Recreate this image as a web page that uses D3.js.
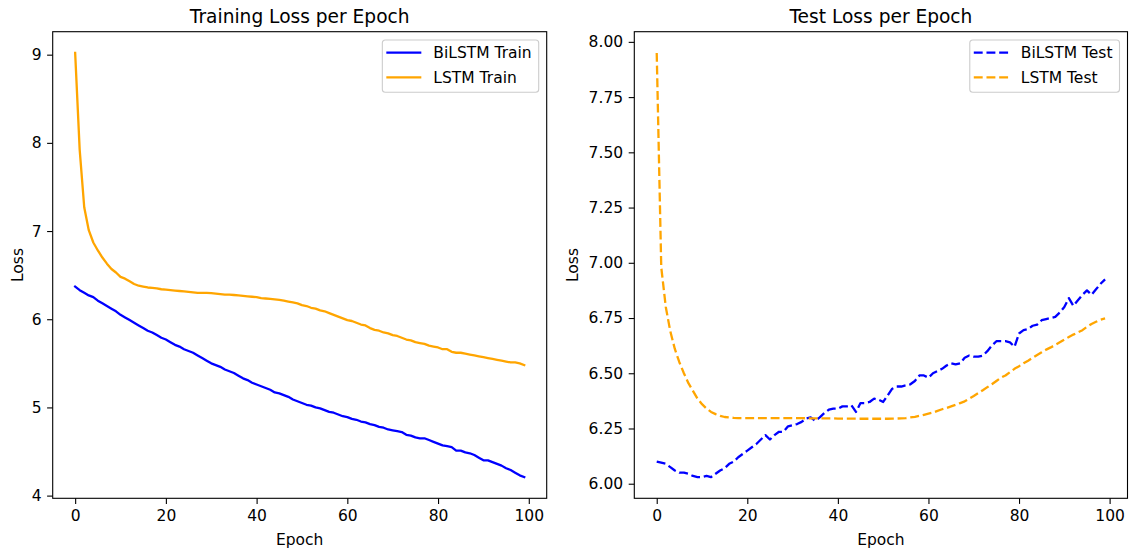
<!DOCTYPE html>
<html>
<head>
<meta charset="utf-8">
<script src="https://cdn.jsdelivr.net/npm/d3@7"></script>
<style>
  html, body { margin: 0; padding: 0; background: #fff; }
  svg { display: block; }
  text { font-family: "DejaVu Sans", sans-serif; fill: #000; }
</style>
</head>
<body>
<svg id="chart" width="1131" height="552"></svg>
<script>
// ---------- data ----------
const epochs = d3.range(0, 100);

const bilstmTrain = [
  6.37, 6.33, 6.30, 6.27, 6.25, 6.21, 6.18, 6.15, 6.12, 6.09,
  6.05, 6.02, 5.99, 5.96, 5.93, 5.90, 5.87, 5.85, 5.82, 5.79,
  5.77, 5.74, 5.71, 5.69, 5.66, 5.64, 5.62, 5.59, 5.56, 5.53,
  5.50, 5.48, 5.46, 5.43, 5.41, 5.39, 5.36, 5.33, 5.31, 5.28,
  5.26, 5.24, 5.22, 5.20, 5.17, 5.16, 5.14, 5.12, 5.09, 5.07,
  5.05, 5.03, 5.02, 5.00, 4.99, 4.97, 4.95, 4.94, 4.92, 4.90,
  4.89, 4.87, 4.86, 4.84, 4.83, 4.81, 4.80, 4.78, 4.77, 4.75,
  4.74, 4.73, 4.72, 4.69, 4.68, 4.66, 4.65, 4.65, 4.63, 4.61,
  4.59, 4.57, 4.56, 4.55, 4.51, 4.51, 4.49, 4.48, 4.46, 4.43,
  4.40, 4.40, 4.38, 4.36, 4.34, 4.31, 4.29, 4.26, 4.23, 4.21
];

const lstmTrain = [
  9.02, 7.92, 7.27, 7.01, 6.87, 6.78, 6.70, 6.63, 6.57, 6.53,
  6.48, 6.46, 6.43, 6.40, 6.38, 6.37, 6.36, 6.355, 6.35, 6.34,
  6.335, 6.33, 6.325, 6.32, 6.315, 6.31, 6.305, 6.30, 6.30, 6.30,
  6.295, 6.29, 6.285, 6.28, 6.28, 6.275, 6.27, 6.265, 6.26, 6.255,
  6.25, 6.24, 6.235, 6.23, 6.225, 6.22, 6.21, 6.20, 6.19, 6.18,
  6.16, 6.15, 6.13, 6.12, 6.10, 6.09, 6.07, 6.05, 6.03, 6.01,
  5.99, 5.98, 5.96, 5.94, 5.93, 5.90, 5.88, 5.87, 5.85, 5.84,
  5.82, 5.81, 5.79, 5.77, 5.76, 5.74, 5.73, 5.72, 5.70, 5.69,
  5.68, 5.66, 5.66, 5.63, 5.62, 5.62, 5.61, 5.60, 5.59, 5.58,
  5.57, 5.56, 5.55, 5.54, 5.53, 5.52, 5.51, 5.51, 5.50, 5.48
];

const bilstmTest = [
  6.10, 6.095, 6.09, 6.075, 6.06, 6.05, 6.05, 6.045, 6.035, 6.03,
  6.03, 6.035, 6.03, 6.045, 6.06, 6.07, 6.09, 6.10, 6.12, 6.135,
  6.15, 6.165, 6.18, 6.20, 6.22, 6.20, 6.22, 6.235, 6.235, 6.26,
  6.265, 6.27, 6.28, 6.295, 6.30, 6.285, 6.30, 6.32, 6.335, 6.34,
  6.34, 6.35, 6.35, 6.355, 6.325, 6.365, 6.365, 6.37, 6.385, 6.38,
  6.37, 6.40, 6.43, 6.44, 6.44, 6.445, 6.45, 6.465, 6.49, 6.49,
  6.48, 6.50, 6.51, 6.52, 6.535, 6.545, 6.54, 6.545, 6.57, 6.58,
  6.575, 6.575, 6.58, 6.60, 6.625, 6.645, 6.645, 6.645, 6.64, 6.62,
  6.68, 6.695, 6.70, 6.715, 6.72, 6.74, 6.745, 6.75, 6.755, 6.775,
  6.80, 6.84, 6.805, 6.83, 6.855, 6.875, 6.855, 6.88, 6.905, 6.925
];

const lstmTest = [
  7.95, 6.98, 6.80, 6.69, 6.61, 6.55, 6.50, 6.455, 6.42, 6.385,
  6.36, 6.34, 6.325, 6.315, 6.307, 6.302, 6.300, 6.298, 6.297, 6.297,
  6.297, 6.297, 6.297, 6.297, 6.297, 6.297, 6.297, 6.297, 6.297, 6.297,
  6.297, 6.297, 6.297, 6.296, 6.296, 6.296, 6.296, 6.296, 6.296, 6.296,
  6.295, 6.295, 6.295, 6.295, 6.295, 6.294, 6.294, 6.294, 6.294, 6.294,
  6.294, 6.294, 6.295, 6.295, 6.296, 6.297, 6.300, 6.303, 6.307, 6.312,
  6.317, 6.322, 6.330, 6.337, 6.343, 6.350, 6.357, 6.365, 6.373, 6.385,
  6.397, 6.410, 6.423, 6.437, 6.450, 6.465, 6.480, 6.490, 6.505, 6.520,
  6.532, 6.545, 6.557, 6.570, 6.583, 6.595, 6.607, 6.617, 6.628, 6.640,
  6.652, 6.664, 6.675, 6.685, 6.695, 6.710, 6.723, 6.733, 6.742, 6.748
];

const xTicks = [0, 20, 40, 60, 80, 100];
const trainYTicks = [4, 5, 6, 7, 8, 9];
const testYTicks = [6.00, 6.25, 6.50, 6.75, 7.00, 7.25, 7.50, 7.75, 8.00];

const trainTitle = "Training Loss per Epoch";
const testTitle = "Test Loss per Epoch";
const xLabel = "Epoch";
const yLabel = "Loss";
const trainNames = ["BiLSTM Train", "LSTM Train"];
const testNames = ["BiLSTM Test", "LSTM Test"];
const colors = ["blue", "orange"];

// ---------- drawing ----------
const svg = d3.select("#chart");
const FS = 15.5;       // tick / label font size
const TFS = 18.6;      // title font size
const TICK = 5.6, PAD = 5.6;

function withMargin(arrs) {
  const all = arrs.flat();
  const lo = d3.min(all), hi = d3.max(all);
  const m = (hi - lo) * 0.05;
  return [lo - m, hi + m];
}

function panel(opts) {
  const {left, right, top, bottom, series, names, dashed, yTicks, yFmt, title, ylabelX} = opts;
  const g = svg.append("g");
  const x = d3.scaleLinear()
    .domain([-0.05 * 99, 99 + 0.05 * 99])
    .range([left, right]);
  const y = d3.scaleLinear()
    .domain(withMargin(series))
    .range([bottom, top]);

  // lines
  const line = d3.line().x((d, i) => x(epochs[i])).y(d => y(d));
  series.forEach((s, k) => {
    g.append("path")
      .datum(s)
      .attr("d", line)
      .attr("fill", "none")
      .attr("stroke", colors[k])
      .attr("stroke-width", 2.3)
      .attr("stroke-linejoin", "round")
      .attr("stroke-linecap", dashed ? "butt" : "square")
      .attr("stroke-dasharray", dashed ? "8.9,3.8" : null);
  });

  // axes
  const xa = g.append("g").attr("transform", `translate(0,${bottom})`)
    .call(d3.axisBottom(x).tickValues(xTicks).tickSizeInner(TICK).tickSizeOuter(0).tickPadding(PAD).tickFormat(d3.format("d")));
  const ya = g.append("g").attr("transform", `translate(${left},0)`)
    .call(d3.axisLeft(y).tickValues(yTicks).tickSizeInner(TICK).tickSizeOuter(0).tickPadding(PAD).tickFormat(yFmt));
  [xa, ya].forEach(a => {
    a.select(".domain").remove();
    a.selectAll(".tick line").attr("stroke", "#000").attr("stroke-width", 1.1);
    a.selectAll(".tick text").attr("font-size", FS).attr("font-family", "DejaVu Sans").attr("fill", "#000");
  });

  // frame
  g.append("rect")
    .attr("x", left).attr("y", top)
    .attr("width", right - left).attr("height", bottom - top)
    .attr("fill", "none").attr("stroke", "#000").attr("stroke-width", 1.1);

  // title & labels
  g.append("text").attr("x", (left + right) / 2).attr("y", 23)
    .attr("text-anchor", "middle").attr("font-size", TFS).text(title);
  g.append("text").attr("x", (left + right) / 2).attr("y", 545)
    .attr("text-anchor", "middle").attr("font-size", FS).text(xLabel);
  g.append("text")
    .attr("transform", `translate(${ylabelX},${(top + bottom) / 2}) rotate(-90)`)
    .attr("text-anchor", "middle").attr("font-size", FS).text(yLabel);

  // legend
  const lg = g.append("g");
  const box = lg.append("rect").attr("rx", 3).attr("ry", 3)
    .attr("fill", "#fff").attr("fill-opacity", 0.8)
    .attr("stroke", "#cccccc").attr("stroke-width", 1.1);
  let maxW = 0;
  names.forEach((n, k) => {
    const cy = 12.7 + k * 24.6;
    lg.append("line").attr("x1", 4).attr("x2", 39).attr("y1", cy).attr("y2", cy)
      .attr("stroke", colors[k]).attr("stroke-width", 2.3)
      .attr("stroke-dasharray", dashed ? "8.9,3.8" : null);
    const t = lg.append("text").attr("x", 51).attr("y", cy).attr("dy", "0.36em")
      .attr("font-size", FS).text(n);
    maxW = Math.max(maxW, t.node().getComputedTextLength());
  });
  const bw = 51 + maxW + 7, bh = 52.3;
  box.attr("x", 0).attr("y", 0).attr("width", bw).attr("height", bh);
  lg.attr("transform", `translate(${right - 8 - bw},${top + 8.3})`);
}

panel({
  left: 52.7, right: 546.7, top: 31.7, bottom: 498.3,
  series: [bilstmTrain, lstmTrain], names: trainNames, dashed: false,
  yTicks: trainYTicks, yFmt: d3.format("d"), title: trainTitle, ylabelX: 23
});
panel({
  left: 634.3, right: 1127.5, top: 31.7, bottom: 498.3,
  series: [bilstmTest, lstmTest], names: testNames, dashed: true,
  yTicks: testYTicks, yFmt: d3.format(".2f"), title: testTitle, ylabelX: 578
});
</script>
</body>
</html>
